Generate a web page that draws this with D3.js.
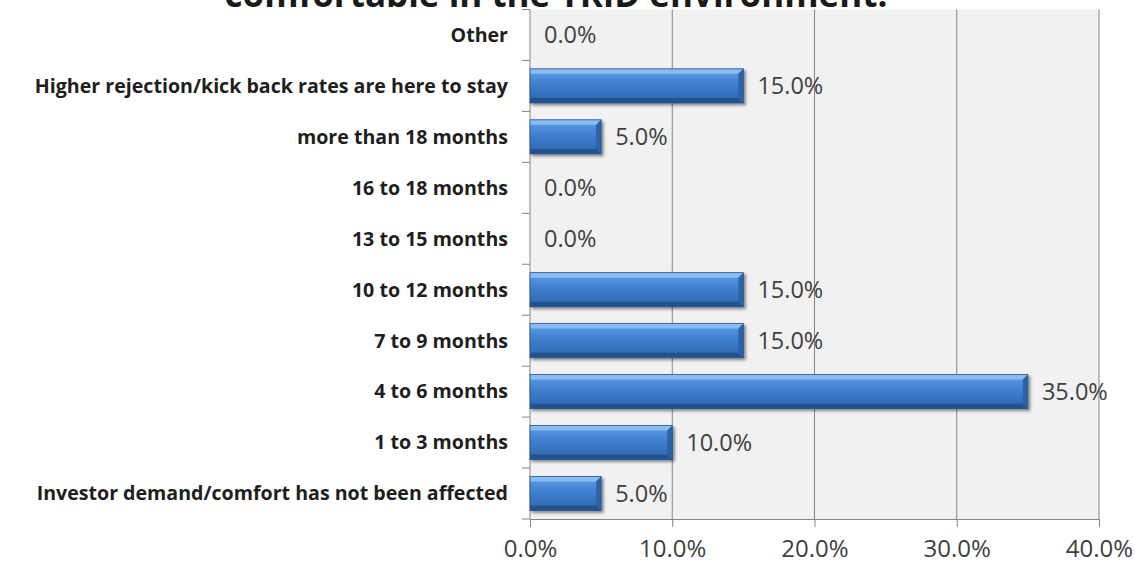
<!DOCTYPE html>
<html>
<head>
<meta charset="utf-8">
<script src="https://cdn.jsdelivr.net/npm/d3@7"></script>
<style>
  html, body { margin: 0; padding: 0; background: #ffffff; }
  svg { display: block; }
</style>
</head>
<body>
<svg id="chart" width="1135" height="564"></svg>
<script>
// Survey responses, listed bottom to top as they appear on the chart
const categories = [
  "Investor demand/comfort has not been affected",
  "1 to 3 months",
  "4 to 6 months",
  "7 to 9 months",
  "10 to 12 months",
  "13 to 15 months",
  "16 to 18 months",
  "more than 18 months",
  "Higher rejection/kick back rates are here to stay",
  "Other"
];
const values = [5.0, 10.0, 35.0, 15.0, 15.0, 0.0, 0.0, 5.0, 15.0, 0.0];
const tickValues = [0, 10, 20, 30, 40];
const titleText = "comfortable in the TRID environment.";

const svg = d3.select("#chart");
const W = 1135, H = 564;
const margin = { top: 9.5, right: 36, bottom: 45, left: 530 };
const plotW = W - margin.left - margin.right;
const plotH = H - margin.top - margin.bottom;

const x = d3.scaleLinear().domain([0, 40]).range([0, plotW]);
// top-down order: reverse so "Other" sits at the top
const y = d3.scaleBand().domain(categories.slice().reverse()).range([0, plotH]).paddingInner(0.33).paddingOuter(0.165);
const yOuter = d3.scaleBand().domain(categories.slice().reverse()).range([0, plotH]);

const defs = svg.append("defs");
const grad = defs.append("linearGradient").attr("id", "barFace").attr("x1", 0).attr("y1", 0).attr("x2", 0).attr("y2", 1);
grad.append("stop").attr("offset", "0%").attr("stop-color", "#5f9ee8");
grad.append("stop").attr("offset", "45%").attr("stop-color", "#3f7fd0");
grad.append("stop").attr("offset", "100%").attr("stop-color", "#2c64aa");

const shadow = defs.append("filter").attr("id", "shadow").attr("x", "-5%").attr("y", "-20%").attr("width", "115%").attr("height", "160%");
shadow.append("feGaussianBlur").attr("in", "SourceAlpha").attr("stdDeviation", 1.6).attr("result", "b");
shadow.append("feOffset").attr("in", "b").attr("dx", 1.5).attr("dy", 2).attr("result", "o");
shadow.append("feComponentTransfer").attr("in", "o").attr("result", "s")
  .append("feFuncA").attr("type", "linear").attr("slope", 0.45);
const merge = shadow.append("feMerge");
merge.append("feMergeNode").attr("in", "s");
merge.append("feMergeNode").attr("in", "SourceGraphic");

// Title (last line of a heading running above the chart)
svg.append("text")
  .attr("x", 556).attr("y", 7)
  .attr("text-anchor", "middle")
  .attr("font-family", "'Open Sans', sans-serif")
  .attr("font-weight", "bold")
  .attr("font-size", 35)
  .attr("fill", "#1a1a1a")
  .text(titleText);

const g = svg.append("g").attr("transform", `translate(${margin.left},${margin.top})`);

// Plot background
g.append("rect").attr("x", 0).attr("y", 0).attr("width", plotW).attr("height", plotH).attr("fill", "#f1f1f1");

// Vertical gridlines
g.append("g").selectAll("line").data(tickValues.filter(d => d > 0)).join("line")
  .attr("x1", d => x(d)).attr("x2", d => x(d))
  .attr("y1", 0).attr("y2", plotH)
  .attr("stroke", "#858585").attr("stroke-width", 1);

// Bottom axis
const xAxis = g.append("g").attr("transform", `translate(0,${plotH})`)
  .call(d3.axisBottom(x).tickValues(tickValues).tickFormat(d => d.toFixed(1) + "%").tickSizeInner(8).tickSizeOuter(0).tickPadding(13));
xAxis.select(".domain").attr("stroke", "#858585");
xAxis.selectAll(".tick line").attr("stroke", "#858585");
xAxis.selectAll("text")
  .attr("font-family", "'Open Sans', sans-serif")
  .attr("font-size", 24).attr("fill", "#404040");

// Left axis: ticks between categories
const leftAxis = g.append("g");
leftAxis.append("line").attr("x1", 0).attr("x2", 0).attr("y1", 0).attr("y2", plotH).attr("stroke", "#858585");
const boundaries = d3.range(categories.length + 1).map(i => i * yOuter.step());
leftAxis.selectAll("line.tk").data(boundaries).join("line").attr("class", "tk")
  .attr("x1", -8).attr("x2", 0).attr("y1", d => d).attr("y2", d => d)
  .attr("stroke", "#858585");

// Category labels
g.append("g").selectAll("text").data(categories).join("text")
  .attr("x", -22)
  .attr("y", d => y(d) + y.bandwidth() / 2)
  .attr("dy", "0.35em")
  .attr("text-anchor", "end")
  .attr("font-family", "'Open Sans', sans-serif")
  .attr("font-weight", "bold")
  .attr("font-size", 19.6)
  .attr("fill", "#1e1e1e")
  .text(d => d);

// Bars with bevelled faces
const data = categories.map((c, i) => ({ cat: c, v: values[i] }));
const bars = g.append("g").selectAll("g").data(data.filter(d => d.v > 0)).join("g")
  .attr("filter", "url(#shadow)");
const bev = 5;
bars.each(function(d) {
  const b = d3.select(this);
  const x0 = x(0), x1 = x(d.v), y0 = y(d.cat), h = y.bandwidth(), y1 = y0 + h;
  b.append("rect").attr("x", x0).attr("y", y0).attr("width", x1 - x0).attr("height", h).attr("fill", "url(#barFace)");
  // top face
  b.append("polygon").attr("points", [[x0, y0], [x1, y0], [x1 - bev, y0 + bev], [x0, y0 + bev]].join(" "))
    .attr("fill", "#8fc1f3").attr("opacity", 0.9);
  // bottom face
  b.append("polygon").attr("points", [[x0, y1], [x1, y1], [x1 - bev, y1 - bev], [x0, y1 - bev]].join(" "))
    .attr("fill", "#234f88").attr("opacity", 0.9);
  // right face
  b.append("polygon").attr("points", [[x1, y0], [x1, y1], [x1 - bev, y1 - bev], [x1 - bev, y0 + bev]].join(" "))
    .attr("fill", "#2d62a6");
  b.append("rect").attr("x", x0).attr("y", y0).attr("width", x1 - x0).attr("height", h)
    .attr("fill", "none").attr("stroke", "#2a5591").attr("stroke-width", 0.8);
});

// Value labels
g.append("g").selectAll("text").data(data).join("text")
  .attr("x", d => x(d.v) + 14)
  .attr("y", d => y(d.cat) + y.bandwidth() / 2)
  .attr("dy", "0.35em")
  .attr("font-family", "'Open Sans', sans-serif")
  .attr("font-size", 23.5)
  .attr("fill", "#404040")
  .text(d => d.v.toFixed(1) + "%");
</script>
</body>
</html>
